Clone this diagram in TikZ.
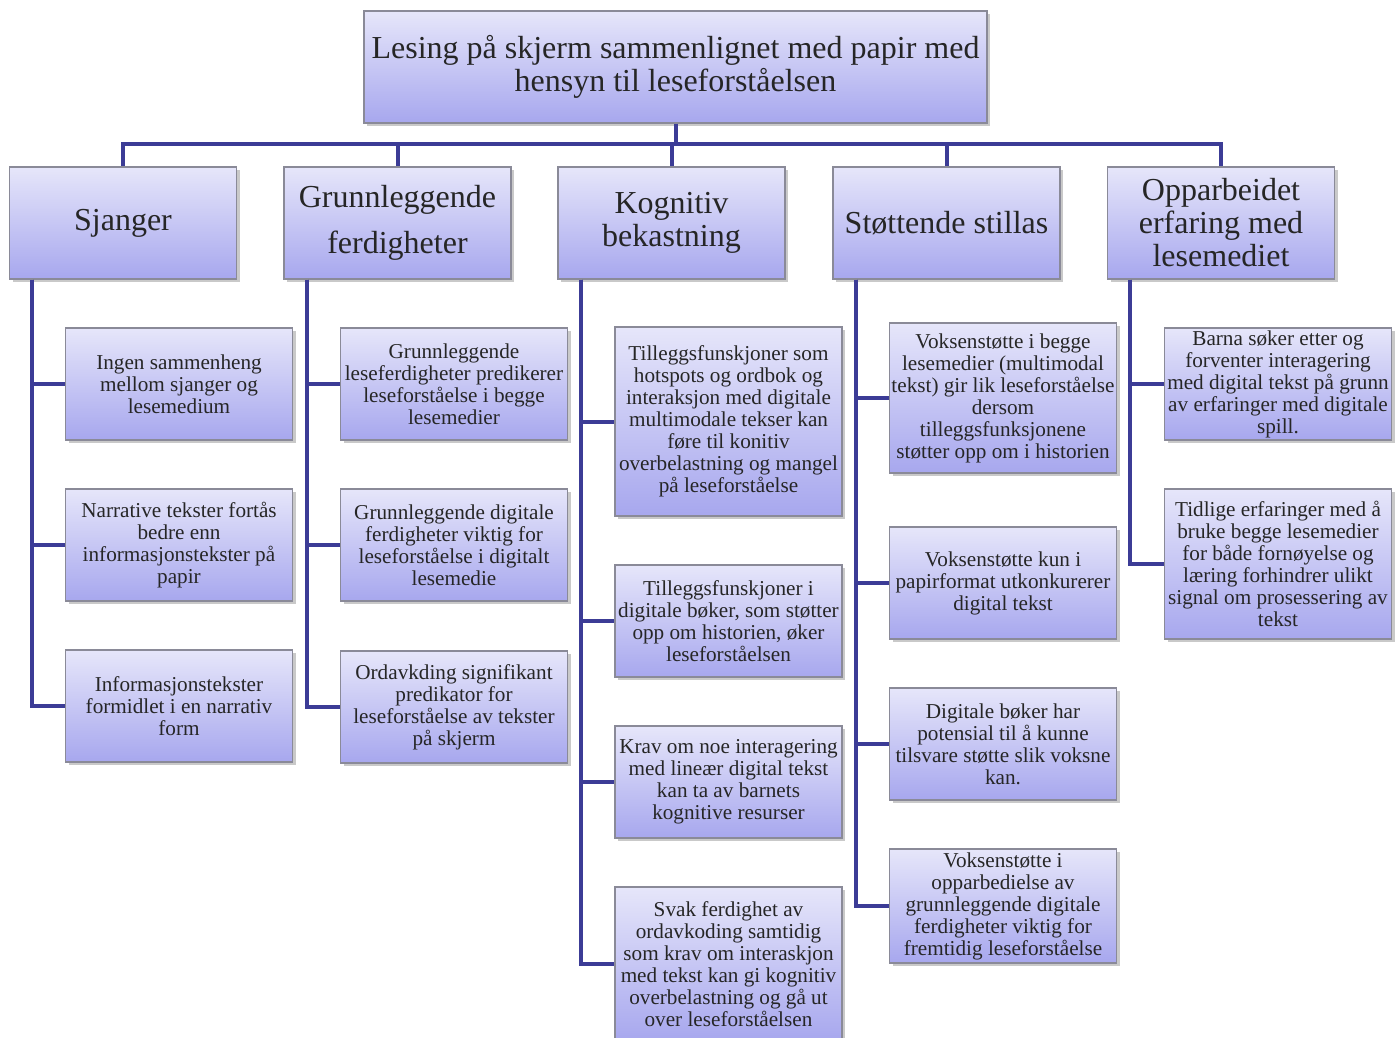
\documentclass[tikz,border=0pt]{standalone}
\usepackage{fontspec}
\setmainfont{Liberation Serif}
\usetikzlibrary{shadows}

\definecolor{boxtop}{HTML}{E6E6FA}
\definecolor{boxbot}{HTML}{A7A7EE}
\definecolor{boxline}{HTML}{8A8A98}
\definecolor{linkblue}{HTML}{3C3C96}
\definecolor{ink}{HTML}{262626}

\tikzset{
  box/.style={draw=boxline, line width=1.2pt, top color=boxtop, bottom color=boxbot,
    align=center, text=ink, inner sep=1pt,
    drop shadow={shadow xshift=3pt, shadow yshift=-3pt, opacity=0.3, fill=black!70}},
  rootbox/.style={box, minimum width=623pt, minimum height=112pt, font=\fontsize{32}{33}\selectfont},
  headbox/.style={box, minimum width=227pt, minimum height=112pt, font=\fontsize{32}{33}\selectfont},
  leafbox/.style={box, minimum width=227pt, minimum height=112pt, font=\fontsize{21.2}{22}\selectfont},
  link/.style={draw=linkblue, line width=4pt}
}

\begin{document}
\begin{tikzpicture}[x=1pt, y=-1pt]
\clip (0,0) rectangle (1399,1037);

% top
\node[rootbox] (root) at (675.5,67) {Lesing på skjerm sammenlignet med papir med\\hensyn til leseforståelsen};

% headings
\node[headbox] (sj) at (123,223) {Sjanger};
\node[headbox, font=\fontsize{32}{46}\selectfont] (gr) at (397.5,223) {Grunnleggende\\ferdigheter};
\node[headbox] (ko) at (671.5,223) {Kognitiv\\bekastning};
\node[headbox] (st) at (946.5,223) {Støttende stillas};
\node[headbox] (op) at (1221,223) {Opparbeidet\\erfaring med\\lesemediet};

% Sjanger
\node[leafbox] (a1) at (179,384) {Ingen sammenheng\\mellom sjanger og\\lesemedium};
\node[leafbox] (a2) at (179,545) {Narrative tekster fortås\\bedre enn\\informasjonstekster på\\papir};
\node[leafbox] (a3) at (179,706) {Informasjonstekster\\formidlet i en narrativ\\form};

% Grunnleggende ferdigheter
\node[leafbox] (b1) at (454,384) {Grunnleggende\\leseferdigheter predikerer\\leseforståelse i begge\\lesemedier};
\node[leafbox] (b2) at (454,545) {Grunnleggende digitale\\ferdigheter viktig for\\leseforståelse i digitalt\\lesemedie};
\node[leafbox] (b3) at (454,707) {Ordavkding signifikant\\predikator for\\leseforståelse av tekster\\på skjerm};

% Kognitiv bekastning
\node[leafbox, minimum height=189pt] (c1) at (728.5,421.5) {Tilleggsfunskjoner som\\hotspots og ordbok og\\interaksjon med digitale\\multimodale tekser kan\\føre til konitiv\\overbelastning og mangel\\på leseforståelse};
\node[leafbox] (c2) at (728.5,621) {Tilleggsfunskjoner i\\digitale bøker, som støtter\\opp om historien, øker\\leseforståelsen};
\node[leafbox] (c3) at (728.5,782) {Krav om noe interagering\\med lineær digital tekst\\kan ta av barnets\\kognitive resurser};
\node[leafbox, minimum height=154pt] (c4) at (728.5,964) {Svak ferdighet av\\ordavkoding samtidig\\som krav om interaskjon\\med tekst kan gi kognitiv\\overbelastning og gå ut\\over leseforståelsen};

% Stottende stillas
\node[leafbox, minimum height=150pt] (d1) at (1003,398) {Voksenstøtte i begge\\lesemedier (multimodal\\tekst) gir lik leseforståelse\\dersom\\tilleggsfunksjonene\\støtter opp om i historien};
\node[leafbox] (d2) at (1003,583) {Voksenstøtte kun i\\papirformat utkonkurerer\\digital tekst};
\node[leafbox] (d3) at (1003,744) {Digitale bøker har\\potensial til å kunne\\tilsvare støtte slik voksne\\kan.};
\node[leafbox, minimum height=114pt] (d4) at (1003,906) {Voksenstøtte i\\opparbedielse av\\grunnleggende digitale\\ferdigheter viktig for\\fremtidig leseforståelse};

% Opparbeidet erfaring
\node[leafbox] (e1) at (1278,384) {Barna søker etter og\\forventer interagering\\med digital tekst på grunn\\av erfaringer med digitale\\spill.};
\node[leafbox, minimum height=150pt] (e2) at (1278,564) {Tidlige erfaringer med å\\bruke begge lesemedier\\for både fornøyelse og\\læring forhindrer ulikt\\signal om prosessering av\\tekst};

% connectors
\draw[link] (root.south) -- ++(0,20) coordinate (bus);
\foreach \h in {sj,gr,ko,st,op}
  \draw[link] (bus) -| (\h.north);

\foreach \l in {a1,a2,a3}
  \draw[link] ([xshift=23.5pt]sj.south west) |- (\l.west);
\foreach \l in {b1,b2,b3}
  \draw[link] ([xshift=23.5pt]gr.south west) |- (\l.west);
\foreach \l in {c1,c2,c3,c4}
  \draw[link] ([xshift=23.5pt]ko.south west) |- (\l.west);
\foreach \l in {d1,d2,d3,d4}
  \draw[link] ([xshift=23.5pt]st.south west) |- (\l.west);
\foreach \l in {e1,e2}
  \draw[link] ([xshift=23.5pt]op.south west) |- (\l.west);
\end{tikzpicture}
\end{document}
